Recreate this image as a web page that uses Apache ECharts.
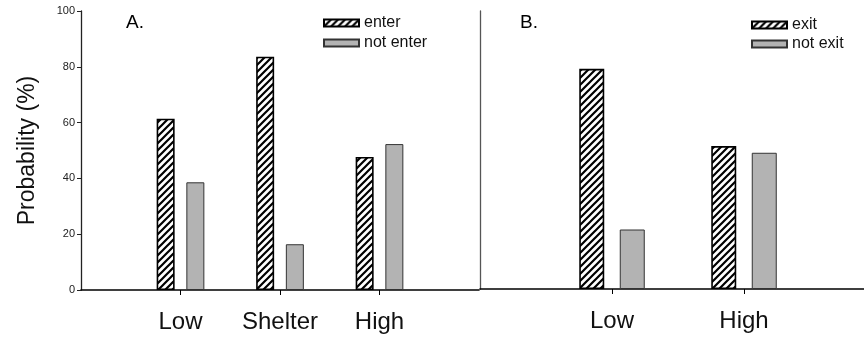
<!DOCTYPE html>
<html>
<head>
<meta charset="utf-8">
<style>
  html, body { margin: 0; padding: 0; background: #fff; }
  #chart { width: 864px; height: 337px; }
</style>
<script src="https://cdn.jsdelivr.net/npm/echarts@6/dist/echarts.min.js"></script>
</head>
<body>
<div id="chart"></div>
<script>
// Panel A: entering a habitat patch
const categoriesA = ['Low', 'Shelter', 'High'];
const enterValues = [61.4, 83.6, 47.7];
const notEnterValues = [38.6, 16.4, 52.3];

// Panel B: exiting a habitat patch
const categoriesB = ['Low', 'High'];
const exitValues = [79.2, 51.4];
const notExitValues = [21.4, 49.0];

const yTicks = [0, 20, 40, 60, 80, 100];

// pad each category list with an empty slot on both sides so the axis line
// runs beyond the outer groups
function pad(arr, fill) { return [fill].concat(arr, [fill]); }

// diagonal hatch fill
function hatch() {
  const s = 7;
  const c = document.createElement('canvas');
  c.width = s; c.height = s;
  const ctx = c.getContext('2d');
  ctx.fillStyle = '#fff';
  ctx.fillRect(0, 0, s, s);
  ctx.strokeStyle = '#000';
  ctx.lineWidth = 2.2;
  ctx.beginPath();
  ctx.moveTo(-1, 1); ctx.lineTo(1, -1);
  ctx.moveTo(0, s); ctx.lineTo(s, 0);
  ctx.moveTo(s - 1, s + 1); ctx.lineTo(s + 1, s - 1);
  ctx.stroke();
  return { image: c, repeat: 'repeat' };
}
const hatchFill = hatch();

const FONT = 'Liberation Sans, Arial, sans-serif';
const hatchStyle = { color: hatchFill, borderColor: '#000', borderWidth: 1.6 };
const greyStyle = { color: '#b3b3b3', borderColor: '#333', borderWidth: 1 };

const chart = echarts.init(document.getElementById('chart'), null, { renderer: 'canvas' });

const yAxisBase = {
  type: 'value', min: 0, max: 100, interval: 20,
  splitLine: { show: false },
  axisLine: { show: true, lineStyle: { color: '#222', width: 1.3 } }
};

const xAxisBase = {
  type: 'category', boundaryGap: false,
  axisLine: { show: true, onZero: false, lineStyle: { color: '#000', width: 1.6 } },
  axisTick: {
    show: true, length: 5, inside: false,
    interval: function (i, v) { return v !== ''; },
    lineStyle: { color: '#000', width: 1 }
  },
  axisLabel: {
    interval: 0, fontFamily: FONT, fontSize: 24, color: '#111', margin: 20
  }
};

chart.setOption({
  animation: false,
  backgroundColor: '#fff',
  textStyle: { fontFamily: FONT },
  grid: [
    { left: 81, width: 398, top: 11, bottom: 47, outerBoundsMode: 'none' },
    { left: 480, width: 396, top: 11, bottom: 48, outerBoundsMode: 'none' }
  ],
  xAxis: [
    Object.assign({}, xAxisBase, { gridIndex: 0, data: pad(categoriesA, '') }),
    Object.assign({}, xAxisBase, { gridIndex: 1, data: pad(categoriesB, '') })
  ],
  yAxis: [
    Object.assign({}, yAxisBase, {
      gridIndex: 0,
      axisTick: { show: true, length: 4, lineStyle: { color: '#222' } },
      axisLabel: {
        fontFamily: FONT, fontSize: 11, color: '#222', margin: 6,
        formatter: function (v) { return yTicks.indexOf(v) >= 0 ? String(v) : ''; }
      },
      name: 'Probability (%)', nameLocation: 'middle', nameGap: 42,
      nameTextStyle: { fontFamily: FONT, fontSize: 23, color: '#111' }
    }),
    Object.assign({}, yAxisBase, {
      gridIndex: 1,
      axisLine: { show: true, lineStyle: { color: '#555', width: 1.3 } },
      axisTick: { show: false },
      axisLabel: { show: false }
    })
  ],
  legend: [
    {
      data: ['enter', 'not enter'],
      orient: 'vertical', left: 318, top: 10, icon: 'rect',
      itemWidth: 35, itemHeight: 7, itemGap: 4,
      textStyle: { fontFamily: FONT, fontSize: 16, color: '#111' }
    },
    {
      data: ['exit', 'not exit'],
      orient: 'vertical', left: 746, top: 12, icon: 'rect',
      itemWidth: 35, itemHeight: 7, itemGap: 3,
      textStyle: { fontFamily: FONT, fontSize: 16, color: '#111' }
    }
  ],
  graphic: [
    { type: 'text', left: 126, top: 13, style: { text: 'A.', font: '19px ' + FONT, fill: '#000' } },
    { type: 'text', left: 520, top: 13, style: { text: 'B.', font: '19px ' + FONT, fill: '#000' } }
  ],
  series: [
    {
      name: 'enter', type: 'bar', xAxisIndex: 0, yAxisIndex: 0,
      data: pad(enterValues, '-'), barWidth: 18, barGap: '65%',
      itemStyle: hatchStyle
    },
    {
      name: 'not enter', type: 'bar', xAxisIndex: 0, yAxisIndex: 0,
      data: pad(notEnterValues, '-'), barWidth: 18, barGap: '65%',
      itemStyle: greyStyle
    },
    {
      name: 'exit', type: 'bar', xAxisIndex: 1, yAxisIndex: 1,
      data: pad(exitValues, '-'), barWidth: 25, barGap: '62%',
      itemStyle: hatchStyle
    },
    {
      name: 'not exit', type: 'bar', xAxisIndex: 1, yAxisIndex: 1,
      data: pad(notExitValues, '-'), barWidth: 25, barGap: '62%',
      itemStyle: greyStyle
    }
  ]
});
</script>
</body>
</html>
